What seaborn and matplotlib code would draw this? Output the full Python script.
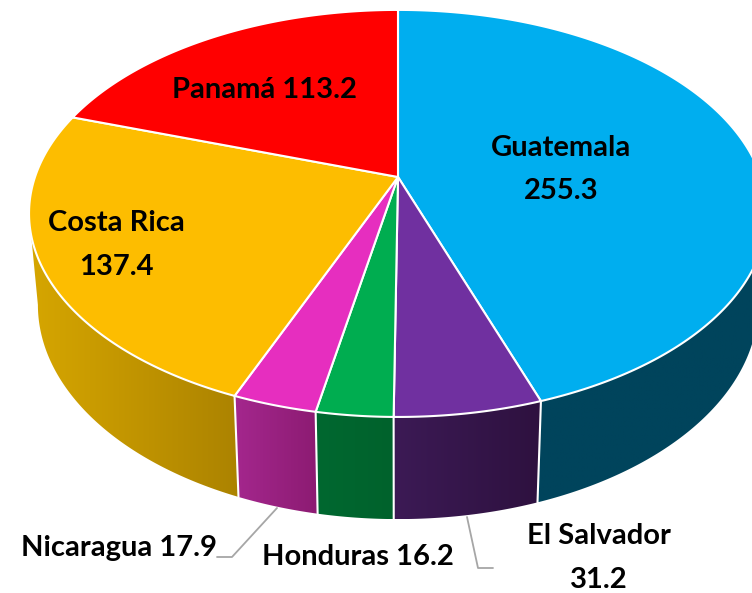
import numpy as np
import matplotlib
matplotlib.use("Agg")
import matplotlib.pyplot as plt
import seaborn as sns
from matplotlib.patches import Polygon

# Datos, en el orden del pastel (sentido horario desde arriba)
paises = ["Guatemala", "El Salvador", "Honduras", "Nicaragua", "Costa Rica", "Panamá"]
valores = [255.3, 31.2, 16.2, 17.9, 137.4, 113.2]
colores = ["#00AEEF", "#7030A0", "#00AD50", "#E62EBF", "#FDBD00", "#FF0000"]
lado_izq = ["#00445C", "#3C1A55", "#006830", "#A4278D", "#D6A600", "#800000"]
lado_der = ["#00445C", "#2E113F", "#00622C", "#8C1B72", "#AC8300", "#800000"]

# Textos
etiquetas = [
    ("Guatemala", 561, 148), ("255.3", 561, 191),
    ("Panamá 113.2", 265, 90),
    ("Costa Rica", 116, 223), ("137.4", 116, 267),
    ("Nicaragua 17.9", 119, 548),
    ("Honduras 16.2", 358, 557),
    ("El Salvador", 599, 536), ("31.2", 599, 580),
]

# Geometria del pastel en perspectiva (en pixeles)
CX, CY = 398, 177
A, B, K = 363, 197, 0.179
ESCALA_BASE = 0.976
D0, D1 = 31.5, 58


def borde(theta):
    w = 1 + K * np.cos(theta)
    return CX + A * np.sin(theta) / w, CY - B * np.cos(theta) / w


def base(theta):
    x, y = borde(theta)
    w = 1 + K * np.cos(theta)
    return CX + (x - CX) * ESCALA_BASE, y + D0 + D1 / w


sns.set_theme(style="white")
plt.rcParams["font.family"] = ["Lato", "DejaVu Sans"]

fig, ax = plt.subplots(figsize=(7.52, 5.93), dpi=100)
ax.set_position([0, 0, 1, 1])
ax.axis("off")

cortes = np.radians(np.concatenate([[0], np.cumsum(valores)]) / sum(valores) * 360)

# Tramo visible de la pared lateral
t_der = np.arccos(-K)
t_izq = 2 * np.pi - t_der

for i, pais in enumerate(paises):
    ini, fin = max(cortes[i], t_der), min(cortes[i + 1], t_izq)
    if fin <= ini:
        continue
    t = np.linspace(ini, fin, 200)
    xs, ys = borde(t)
    xb, yb = base(t)
    contorno = np.r_[np.c_[xs, ys], np.c_[xb, yb][::-1]]
    pared = Polygon(contorno, closed=True, fc="none", ec="none")
    ax.add_patch(pared)
    x0, x1 = contorno[:, 0].min(), contorno[:, 0].max()
    y0, y1 = contorno[:, 1].min(), contorno[:, 1].max()
    rampa = sns.blend_palette([lado_izq[i], lado_der[i]], 128)
    ax.imshow(np.array(rampa)[None, :, :], extent=(x0, x1, y1, y0), aspect="auto",
              clip_path=pared, interpolation="bilinear", zorder=1)

# Uniones blancas entre las paredes
for c in cortes[1:-1]:
    if t_der < c < t_izq:
        xa, ya = borde(c)
        xb, yb = base(c)
        ax.plot([xa, xb], [ya, yb], color="white", lw=1.5, zorder=2)

# Cara superior
for i in range(len(paises)):
    t = np.linspace(cortes[i], cortes[i + 1], 300)
    xs, ys = borde(t)
    ax.add_patch(Polygon(np.r_[[[CX, CY]], np.c_[xs, ys]], closed=True, fc=colores[i],
                         ec="white", lw=1.5, joinstyle="round", zorder=3))

# Lineas guia
ax.plot([217, 232, 277], [557, 557, 508], color="#A6A6A6", lw=1.3, zorder=2)
ax.plot([467, 478, 493], [517, 568, 568], color="#A6A6A6", lw=1.3, zorder=2)

for texto, x, y in etiquetas:
    ax.text(x, y, texto, ha="center", va="center", fontsize=21, fontweight="bold",
            color="black", zorder=4)

ax.set_xlim(0, 752)
ax.set_ylim(593, 0)
fig.savefig("out.png", dpi=100, facecolor="white")
